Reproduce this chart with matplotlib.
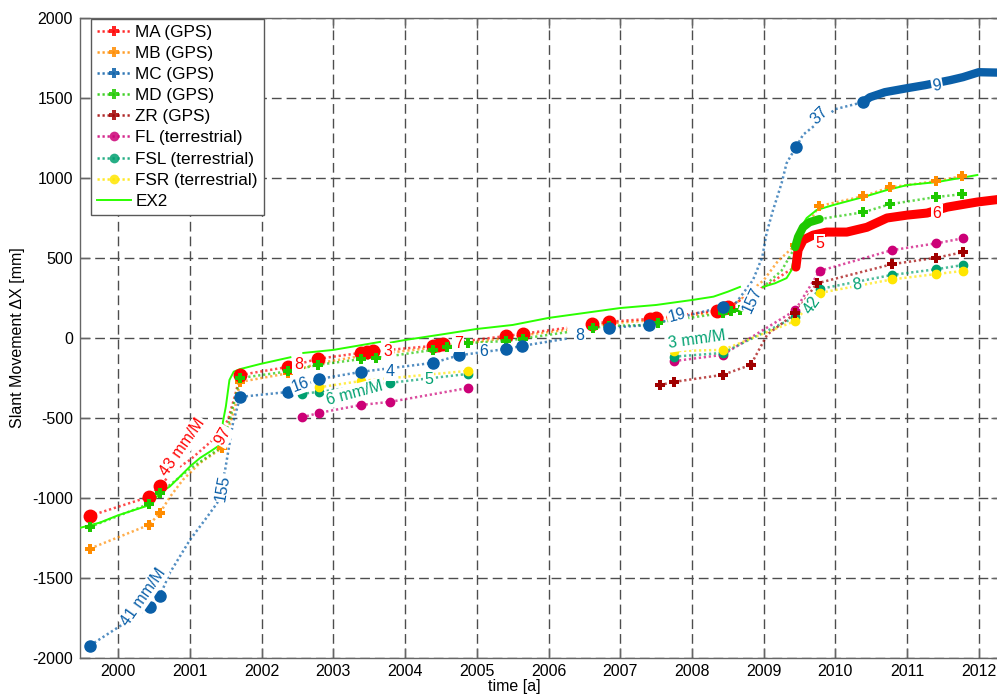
import numpy as np
import matplotlib
matplotlib.use("Agg")
import matplotlib.pyplot as plt
from matplotlib.lines import Line2D

nan = np.nan

# --- GPS stations: measured epochs ------------------------------------------
ma_t = [1999.605, 2000.43, 2000.58, 2001.70, 2002.37, 2002.78, 2003.38, 2003.47, 2003.55,
        2004.39, 2004.46, 2004.53, 2005.41, 2005.64, 2006.60, 2006.84, 2007.41, 2007.50,
        2008.35, 2008.45, 2008.50]
ma_y = [-1114, -995, -926, -233, -182, -132, -95, -90, -85,
        -51, -45, -38, 11, 25, 86, 100, 118, 122,
        170, 185, 190]
ma_line_t = [1999.605, 2000.43, 2000.58, 2000.79, 2001.00, 2001.24, 2001.39, 2001.53, 2001.63,
             2001.70, 2002.37, 2002.78, 2003.38, 2003.55, 2004.39, 2004.53, 2005.41, 2005.64,
             2006.26, nan, 2006.60, 2006.84, 2007.41, 2007.50, 2008.35, 2008.50, 2009.09,
             2009.32, 2009.44]
ma_line_y = [-1114, -995, -926, -826, -764, -670, -608, -514, -358,
             -233, -182, -132, -95, -85, -51, -38, 11, 25,
             62, nan, 86, 100, 118, 122, 170, 190, 341,
             410, 442]
ma_dense_t = [2009.45, 2009.48, 2009.55, 2009.69, 2009.88, 2010.16, 2010.44, 2010.72,
              2011.00, 2011.28, 2011.56, 2011.98, 2012.31]
ma_dense_y = [442, 548, 611, 642, 661, 661, 691, 749, 767, 780, 817, 849, 867]

mb_t = [1999.605, 2000.43, 2000.58, 2001.45, 2001.70, 2002.37, 2002.78, 2003.38, 2003.55,
        2004.39, 2004.53, 2005.41, 2005.64, 2006.60, 2006.84, 2007.41, 2007.50, 2008.43,
        2008.50, 2009.44, 2009.77, 2010.39, 2010.76, 2011.40, 2011.77]
mb_y = [-1319, -1170, -1096, -689, -276, -222, -160, -115, -105,
        -62, -50, -2, 15, 75, 90, 108, 112, 165,
        172, 578, 823, 885, 941, 979, 1011]
mb_line_t = [1999.605, 2000.43, 2000.58, 2000.72, 2000.90, 2001.14, 2001.45, 2001.50, 2001.56,
             2001.63, 2001.70, 2002.37, 2002.78, 2003.38, 2003.55, 2004.39, 2004.53, 2005.41,
             2005.64, 2006.26, nan, 2006.60, 2006.84, 2007.41, 2007.50, 2008.43, 2008.50,
             2009.00, 2009.20, 2009.44, 2009.77, 2010.39, 2010.76, 2011.40, 2011.77]
mb_line_y = [-1319, -1170, -1096, -996, -889, -783, -689, -610, -532,
             -432, -276, -222, -160, -115, -105, -62, -50, -2,
             15, 50, nan, 75, 90, 108, 112, 165, 172,
             360, 480, 578, 823, 885, 941, 979, 1011]

mc_t = [1999.605, 2000.44, 2000.58, 2001.70, 2002.37, 2002.80, 2003.39, 2004.39, 2004.75,
        2005.41, 2005.63, 2006.84, 2007.40, 2008.43, 2009.45, 2010.39]
mc_y = [-1925, -1683, -1614, -370, -339, -258, -213, -157, -110,
        -70, -51, 62, 80, 193, 1192, 1474]
mc_line_t = [1999.605, 2000.44, 2000.58, 2000.72, 2001.00, 2001.24, 2001.38, 2001.49, 2001.60,
             2001.70, 2002.37, 2002.80, 2003.39, 2004.39, 2004.75, 2005.41, 2005.63, 2006.26,
             nan, 2006.84, 2007.40, 2008.43, 2008.60, 2008.85, 2008.98, 2009.04, 2009.13,
             2009.25, 2009.32, 2009.45, 2009.55, 2010.00, 2010.39]
mc_line_y = [-1925, -1683, -1614, -1470, -1264, -1120, -1033, -826, -532,
             -370, -339, -258, -213, -157, -110, -70, -51, -5,
             nan, 62, 80, 193, 210, 360, 503, 653, 797,
             966, 1092, 1192, 1270, 1430, 1474]
mc_dense_t = [2010.39, 2010.48, 2010.69, 2011.00, 2011.25, 2011.60, 2011.78, 2012.00, 2012.31]
mc_dense_y = [1474, 1504, 1536, 1561, 1580, 1611, 1630, 1661, 1658]

md_t = [1999.605, 2000.43, 2000.58, 2001.70, 2002.37, 2002.78, 2003.39, 2003.60, 2004.39,
        2004.58, 2004.88, 2005.41, 2005.64, 2006.62, 2006.84, 2007.41, 2007.52, 2008.43,
        2008.55, 2008.67, 2010.39, 2010.76, 2011.40, 2011.77]
md_y = [-1183, -1039, -971, -252, -210, -170, -133, -127, -76,
        -57, -33, -20, -5, 61, 74, 80, 95, 155,
        165, 174, 785, 835, 880, 898]
md_line_t = [1999.605, 2000.43, 2000.58, 2001.00, 2001.42, 2001.55, 2001.70, 2002.37, 2002.78,
             2003.39, 2003.60, 2004.39, 2004.58, 2004.88, 2005.41, 2005.64, 2006.26, nan,
             2006.62, 2006.84, 2007.41, 2007.52, 2008.43, 2008.55, 2008.67, 2009.00, 2009.25,
             2009.44, nan, 2009.78, 2010.39, 2010.76, 2011.40, 2011.77]
md_line_y = [-1183, -1039, -971, -820, -690, -520, -252, -210, -170,
             -133, -127, -76, -57, -33, -20, -5, 35, nan,
             61, 74, 80, 95, 155, 165, 174, 320, 420,
             567, nan, 742, 785, 835, 880, 898]
md_dense_t = [2009.44, 2009.48, 2009.55, 2009.64, 2009.78]
md_dense_y = [567, 630, 692, 723, 742]

zr_t = [2007.55, 2007.75, 2008.43, 2008.82, 2009.44, 2009.74, 2010.79, 2011.40, 2011.78]
zr_y = [-297, -276, -232, -170, 152, 340, 460, 500, 535]
zr_line_t = [2007.55, 2007.75, 2008.43, 2008.82, 2009.05, 2009.44, 2009.74, 2010.79, 2011.40, 2011.78]
zr_line_y = [-297, -276, -232, -170, 20, 152, 340, 460, 500, 535]

# --- terrestrial points -------------------------------------------------------
fl_t = [2002.56, 2002.80, 2003.39, 2003.79, 2004.88, nan, 2007.75, 2008.43, 2009.44, 2009.78,
        2010.79, 2011.40, 2011.78]
fl_y = [-498, -470, -420, -401, -314, nan, -146, -107, 172, 418, 548, 590, 622]
fsl_t = [2002.56, 2002.80, 2003.39, 2003.79, 2004.88, nan, 2007.75, 2008.43, 2009.44, 2009.78,
         2010.79, 2011.40, 2011.78]
fsl_y = [-350, -339, -301, -282, -226, nan, -118, -95, 130, 305, 393, 428, 455]
fsr_t = [2002.80, 2003.39, 2004.88, nan, 2007.75, 2008.43, 2009.44, 2009.78, 2010.79, 2011.40, 2011.78]
fsr_y = [-310, -270, -207, nan, -83, -76, 105, 280, 365, 398, 418]

# --- extensometer EX2 (gaps = no data) ----------------------------------------
ex2_t = [1999.466, 1999.745, 2000.00, 2000.44, 2000.58, 2000.72, 2000.86, 2001.00, 2001.14,
         2001.28, 2001.42, 2001.46, 2001.50, 2001.55, 2001.61, 2001.70, 2001.98, 2002.40, nan,
         2002.58, 2003.00, 2003.65, nan, 2003.80, 2004.00, 2004.50, 2005.00, 2005.50, 2006.00,
         2006.50, 2007.00, 2007.50, 2008.00, 2008.30, 2008.50, 2008.67, nan, 2008.99, 2009.16,
         2009.32, 2009.39, 2009.44, 2009.48, 2009.60, 2009.74, 2009.97, 2010.39, 2010.72,
         2011.00, 2011.42, 2011.98]
ex2_y = [-1189, -1156, -1110, -1046, -971, -930, -868, -805, -752,
         -712, -670, -524, -430, -264, -212, -196, -164, -122, nan,
         -95, -76, -26, nan, -30, -14, 20, 55, 80, 124,
         155, 186, 205, 236, 257, 288, 318, nan, 318, 341,
         373, 424, 549, 661, 749, 799, 830, 880, 924,
         955, 974, 1018]

# --- velocity annotations (mm/month) ------------------------------------------
rate_text = ["43 mm/M", "97", "155", "41 mm/M", "8", "16", "6 mm/M", "4", "3", "5", "7", "6",
             "8", "19", "3 mm/M", "157", "37", "9", "6", "5", "42", "8"]
rate_t = [2000.90, 2001.46, 2001.46, 2000.35, 2002.51, 2002.54, 2003.30, 2003.79, 2003.76,
          2004.33, 2004.74, 2005.09, 2006.44, 2007.79, 2008.07, 2008.84, 2009.78, 2011.42,
          2011.42, 2009.78, 2009.67, 2010.30]
rate_y = [-683, -615, -940, -1619, -170, -295, -345, -213, -89,
          -264, -33, -89, 11, 143, -14, 236, 1392, 1574,
          780, 592, 205, 330]
rate_rot = [55, 60, 80, 55, 0, 20, 15, 0, 0, 0, 0, 0, 0, 15, 8, 65, 45, 10, 0, 0, 55, 10]
rate_station = ["MA", "MA", "MC", "MC", "MA", "MC", "FSL", "MC", "MA", "FSL", "MA", "MC",
                "MC", "MC", "FSL", "MC", "MC", "MC", "MA", "MA", "FSL", "FSL"]

colors = {"MA": "#ff0000", "MB": "#ff8c00", "MC": "#0a5fa8", "MD": "#1ec800",
          "ZR": "#a00000", "FL": "#cc0077", "FSL": "#00a070", "FSR": "#ffe600",
          "EX2": "#2bff00"}

plt.rcParams["font.family"] = ["Liberation Sans", "DejaVu Sans"]
plt.rcParams["axes.unicode_minus"] = False
fig = plt.figure(figsize=(9.97, 6.97), dpi=100)
ax = fig.add_axes([80 / 997, 1 - 657.5 / 697, 921 / 997, 639.5 / 697])

dot = (0, (0.9, 1.1))


def dotted(t, y, c, z=3):
    ax.plot(t, y, color=c, lw=1.8, ls=dot, alpha=0.7, zorder=z)


# extensometer
ax.plot(ex2_t, ex2_y, color=colors["EX2"], lw=1.4, zorder=4)

# terrestrial
for t, y, key in [(fl_t, fl_y, "FL"), (fsl_t, fsl_y, "FSL"), (fsr_t, fsr_y, "FSR")]:
    dotted(t, y, colors[key])
    ax.plot(t, y, ls="none", marker="o", ms=6, color=colors[key], zorder=5)

# GPS
dotted(zr_line_t, zr_line_y, colors["ZR"])
ax.plot(zr_t, zr_y, ls="none", marker="P", ms=7, color=colors["ZR"], mew=0, zorder=5)

dotted(mb_line_t, mb_line_y, colors["MB"])
ax.plot(mb_t, mb_y, ls="none", marker="P", ms=7, color=colors["MB"], mew=0, zorder=5)

dotted(ma_line_t, ma_line_y, colors["MA"])
ax.plot(ma_t, ma_y, ls="none", marker="o", ms=9, color=colors["MA"], zorder=5)
ax.plot(ma_dense_t, ma_dense_y, color=colors["MA"], lw=6.5, solid_capstyle="round", zorder=5)

dotted(md_line_t, md_line_y, colors["MD"])
ax.plot(md_t, md_y, ls="none", marker="P", ms=7, color=colors["MD"], mew=0, zorder=6)
ax.plot(md_dense_t, md_dense_y, color=colors["MD"], lw=6, solid_capstyle="round", zorder=6)

dotted(mc_line_t, mc_line_y, colors["MC"])
ax.plot(mc_t, mc_y, ls="none", marker="o", ms=8, color=colors["MC"], zorder=6)
ax.plot(mc_dense_t, mc_dense_y, color=colors["MC"], lw=6, solid_capstyle="round", zorder=6)

for s, t, y, r, st in zip(rate_text, rate_t, rate_y, rate_rot, rate_station):
    ax.text(t, y, s, rotation=r, color=colors[st], fontsize=11.5, ha="center", va="center",
            rotation_mode="anchor", zorder=8,
            bbox=dict(boxstyle="square,pad=0.08", fc="white", ec="none"))

# axes styling
ax.set_xlim(1999.466, 2012.31)
ax.set_ylim(-2000, 2000)
ax.set_xticks(range(2000, 2013))
ax.set_yticks(range(-2000, 2001, 500))
ax.grid(True, color="0.3", lw=1, ls=(0, (7, 3.6)), zorder=1)
ax.set_axisbelow(True)
for sp in ax.spines.values():
    sp.set_color("0.4")
    sp.set_linewidth(1)
ax.tick_params(direction="in", length=7, width=1, color="0.4", labelsize=11.5, pad=5,
               top=True, right=True)
ax.set_xlabel("time [a]", fontsize=11.5)
ax.xaxis.set_label_coords(0.472, -0.034)
ax.set_ylabel("Slant Movement \u0394X [mm]", fontsize=11.5)
ax.yaxis.set_label_coords(-0.06, 0.5)

# legend
handles = []
names = ["MA (GPS)", "MB (GPS)", "MC (GPS)", "MD (GPS)", "ZR (GPS)",
         "FL (terrestrial)", "FSL (terrestrial)", "FSR (terrestrial)", "EX2"]
keys = ["MA", "MB", "MC", "MD", "ZR", "FL", "FSL", "FSR"]
for k in keys:
    mk = "P" if k in ("MA", "MB", "MC", "MD", "ZR") else "o"
    handles.append(Line2D([], [], color=colors[k], ls=dot, lw=1.8, alpha=0.85,
                          marker=mk, ms=7, mew=0))
handles.append(Line2D([], [], color=colors["EX2"], lw=1.4))
leg = ax.legend(handles, names, loc="upper left", bbox_to_anchor=(0.012, 0.999),
                borderaxespad=0, fontsize=12.3, handlelength=2.0, handletextpad=0.25,
                labelspacing=0.36, borderpad=0.35, fancybox=False, framealpha=1,
                edgecolor="0.35")
leg.get_frame().set_linewidth(1)
leg.set_zorder(10)

fig.savefig("out.png", dpi=100)
